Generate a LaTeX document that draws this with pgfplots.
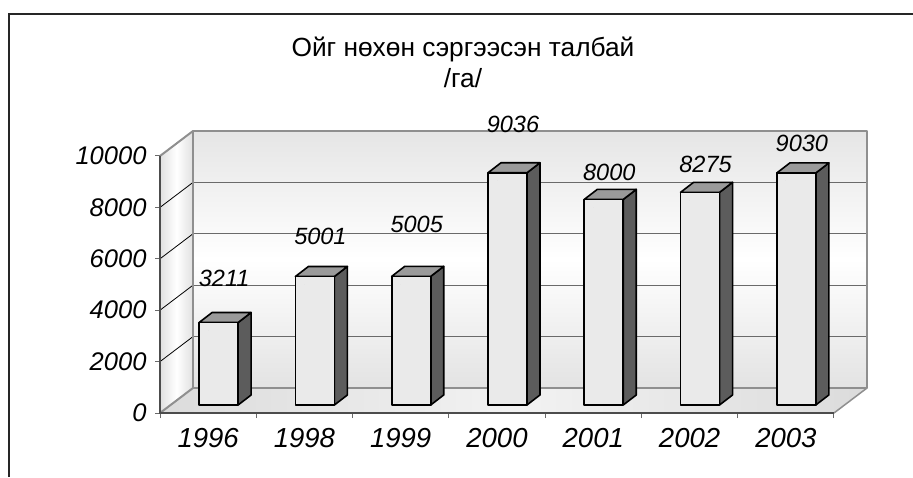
\documentclass[border=0pt]{standalone}
\usepackage{pgfplots}
\pgfplotsset{compat=1.18}
\usepackage{fontspec}
\setmainfont{Liberation Sans}
\definecolor{barfront}{HTML}{EAEAEA}
\definecolor{bartop}{HTML}{9A9A9A}
\definecolor{barside}{HTML}{5C5C5C}
\definecolor{edgegray}{HTML}{8F8F8F}
\definecolor{gridgray}{HTML}{6A6A6A}
\begin{document}
\begin{tikzpicture}[x=1pt,y=1pt]
\useasboundingbox (0,0) rectangle (913,477);
\draw[line width=2pt, black!85] (9,0) -- (9,463) -- (913,463);
\node[align=center, font=\fontsize{26.3}{31}\selectfont] at (463,415) {Ойг нөхөн сэргээсэн талбай\\/га/};
\begin{axis}[
  at={(160pt,64pt)}, anchor=south west,
  scale only axis, width=674pt, height=257pt,
  xmin=0, xmax=7, ymin=0, ymax=10000,
  clip=false,
  axis x line*=bottom, axis y line*=left,
  axis line style={draw=none},
  xtick={0.5,1.5,2.5,3.5,4.5,5.5,6.5},
  xticklabels={1996,1998,1999,2000,2001,2002,2003},
  minor xtick={0,1,2,3,4,5,6,7},
  every major x tick/.style={draw=none},
  every minor x tick/.style={draw=gridgray, line width=1pt},
  every major y tick/.style={draw=gridgray, line width=1pt},
  ytick={0,2000,4000,6000,8000,10000},
  tick align=outside,
  major tick length=5pt, minor tick length=5pt,
  scaled y ticks=false,
  /pgf/number format/1000 sep={},
  /pgf/number format/assume math mode=true,
  yticklabel style={font=\fontsize{25.5}{25.5}\selectfont\itshape, xshift=-5pt},
  xticklabel style={font=\fontsize{27.5}{27.5}\selectfont\itshape, yshift=-7pt},
]
% floor
\fill[left color=gray!28, right color=gray!28, middle color=gray!10]
  (axis cs:0,0) -- (axis cs:7,0) -- ([shift={(33pt,25pt)}]axis cs:7,0) -- ([shift={(33pt,25pt)}]axis cs:0,0) -- cycle;
% left wall
\fill[left color=gray!24, right color=gray!24, middle color=white]
  (axis cs:0,0) -- (axis cs:0,10000) -- ([shift={(33pt,25pt)}]axis cs:0,10000) -- ([shift={(33pt,25pt)}]axis cs:0,0) -- cycle;
% back wall
\fill[top color=gray!20, bottom color=gray!22, middle color=white]
  ([shift={(33pt,25pt)}]axis cs:0,0) rectangle ([shift={(33pt,25pt)}]axis cs:7,10000);
% grid lines
\pgfplotsinvokeforeach{2000,4000,6000,8000}{
  \draw[gridgray, line width=1pt] ([shift={(33pt,25pt)}]axis cs:0,#1) -- ([shift={(33pt,25pt)}]axis cs:7,#1);
  \draw[black, line width=0.8pt] (axis cs:0,#1) -- ([shift={(33pt,25pt)}]axis cs:0,#1);
}
% edges
\draw[edgegray, line width=2pt, line join=round]
  ([shift={(33pt,25pt)}]axis cs:0,0) rectangle ([shift={(33pt,25pt)}]axis cs:7,10000);
\draw[edgegray, line width=2pt] (axis cs:0,10000) -- ([shift={(33pt,25pt)}]axis cs:0,10000);
\draw[edgegray, line width=2pt] (axis cs:0,0) -- ([shift={(33pt,25pt)}]axis cs:0,0);
\draw[edgegray, line width=1.5pt] (axis cs:7,0) -- ([shift={(33pt,25pt)}]axis cs:7,0);
\draw[black!70, line width=1.3pt] (axis cs:0,10000) -- (axis cs:0,0) -- (axis cs:7,0);
% bars
\addplot[only marks, mark=*, mark size=0pt, mark options={draw=none, fill=none}, scatter,
  visualization depends on={y \as \rawy},
  scatter/@pre marker code/.code={%
    \pgfmathsetmacro{\hb}{8-\rawy*0.0257}%
    \pgfmathsetmacro{\hs}{18-\rawy*0.0257}%
    \begin{scope}[line width=1.6pt, line join=round]
      \filldraw[fill=barside, draw=black] (30pt,8pt) -- (43pt,18pt) -- (43pt,\hs pt) -- (30pt,\hb pt) -- cycle;
      \filldraw[fill=bartop, draw=black] (-9pt,8pt) -- (4pt,18pt) -- (43pt,18pt) -- (30pt,8pt) -- cycle;
      \filldraw[fill=barfront, draw=black] (-9pt,\hb pt) rectangle (30pt,8pt);
    \end{scope}
  },
  scatter/@post marker code/.code={},
] coordinates {(0.5,3211) (1.5,5001) (2.5,5005) (3.5,9036) (4.5,8000) (5.5,8275) (6.5,9030)};
% value labels
\addplot[only marks, mark=none, nodes near coords, point meta=explicit symbolic,
  every node near coord/.append style={font=\fontsize{23.5}{23.5}\selectfont\itshape, inner sep=0pt, anchor=base, xshift=16pt}]
  coordinates {(0.5,4903)[3211] (1.5,6537)[5001] (2.5,7004)[5005] (3.5,10895)[9036] (4.5,9066)[8000] (5.5,9377)[8275] (6.5,10156)[9030]};
\end{axis}
\end{tikzpicture}
\end{document}
